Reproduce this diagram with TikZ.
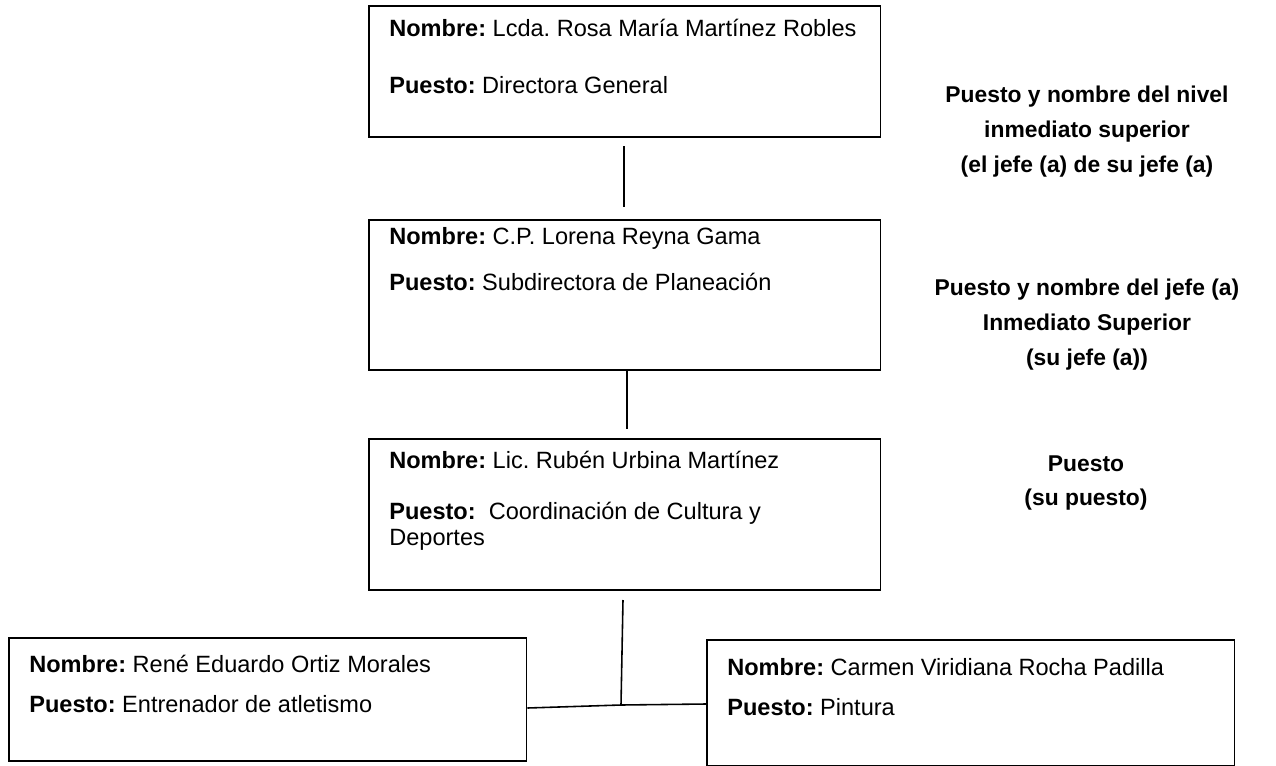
\documentclass[tikz,border=0pt]{standalone}
\usepackage{fontspec}
\setmainfont{Liberation Sans}
\frenchspacing

\tikzset{
  orgbox/.style={draw,line width=0.9pt,inner sep=0pt,anchor=north west},
  boxtext/.style={anchor=west,inner sep=0pt,font=\fontsize{13.4}{15}\selectfont},
  sidenote/.style={align=center,inner sep=0pt,font=\fontsize{13}{19.9}\selectfont\bfseries},
  link/.style={line width=0.9pt}
}

\begin{document}
\begin{tikzpicture}[x=0.02cm,y=-0.02cm]
\useasboundingbox (0,0) rectangle (1276,765);
% boxes, one per level
\node[orgbox,minimum width=10.24cm,minimum height=2.62cm] (jefejefe) at (368,5) {};
\node[orgbox,minimum width=10.24cm,minimum height=3.0cm] (jefe) at (368,219) {};
\node[orgbox,minimum width=10.24cm,minimum height=3.02cm] (puesto) at (368,438) {};
\node[orgbox,minimum width=10.36cm,minimum height=2.46cm] (atletismo) at (8,637) {};
\node[orgbox,minimum width=10.56cm,minimum height=2.52cm] (pintura) at (706,639) {};

\node[boxtext] (n1) at (389,28) {\textbf{Nombre:} Lcda. Rosa María Martínez Robles};
\node[boxtext] (p1) at (389,85) {\textbf{Puesto:} Directora General};
\node[boxtext] (n2) at (389,238) {\textbf{Nombre:} C.P. Lorena Reyna Gama};
\node[boxtext] (p2) at (389,282) {\textbf{Puesto:} Subdirectora de Planeación};
\node[boxtext] (n3) at (389,460) {\textbf{Nombre:} Lic. Rubén Urbina Martínez};
\node[boxtext] (p3) at (389,513) {\textbf{Puesto:}\ \ Coordinación de Cultura y};
\node[boxtext] (p3b) at (389,540) {Deportes};
\node[boxtext] (n4) at (29,664) {\textbf{Nombre:} René Eduardo Ortiz Morales};
\node[boxtext] (p4) at (29,704) {\textbf{Puesto:} Entrenador de atletismo};
\node[boxtext] (n5) at (727,667) {\textbf{Nombre:} Carmen Viridiana Rocha Padilla};
\node[boxtext] (p5) at (727,707) {\textbf{Puesto:} Pintura};

% notes on the right
\node[sidenote] (s1) at (1087,132) {Puesto y nombre del nivel\\inmediato superior\\(el jefe (a) de su jefe (a)};
\node[sidenote] (s2) at (1087,325) {Puesto y nombre del jefe (a)\\Inmediato Superior\\(su jefe (a))};
\node[sidenote] (s3) at (1086,483) {Puesto\\(su puesto)};

% connectors
\coordinate (a1) at (624,146);
\coordinate (a2) at (624,207);
\coordinate (b1) at (627,429);
\coordinate (c1) at (623,600);
\coordinate (c2) at (621,705);
\draw[link] (a1) -- (a2);
\draw[link] (jefe.south west -| b1) -- (b1);
\draw[link] (c1) -- (c2);
\draw[link] (atletismo.east |- 0,708) -- (c2) -- (pintura.west |- 0,704);
\end{tikzpicture}
\end{document}
